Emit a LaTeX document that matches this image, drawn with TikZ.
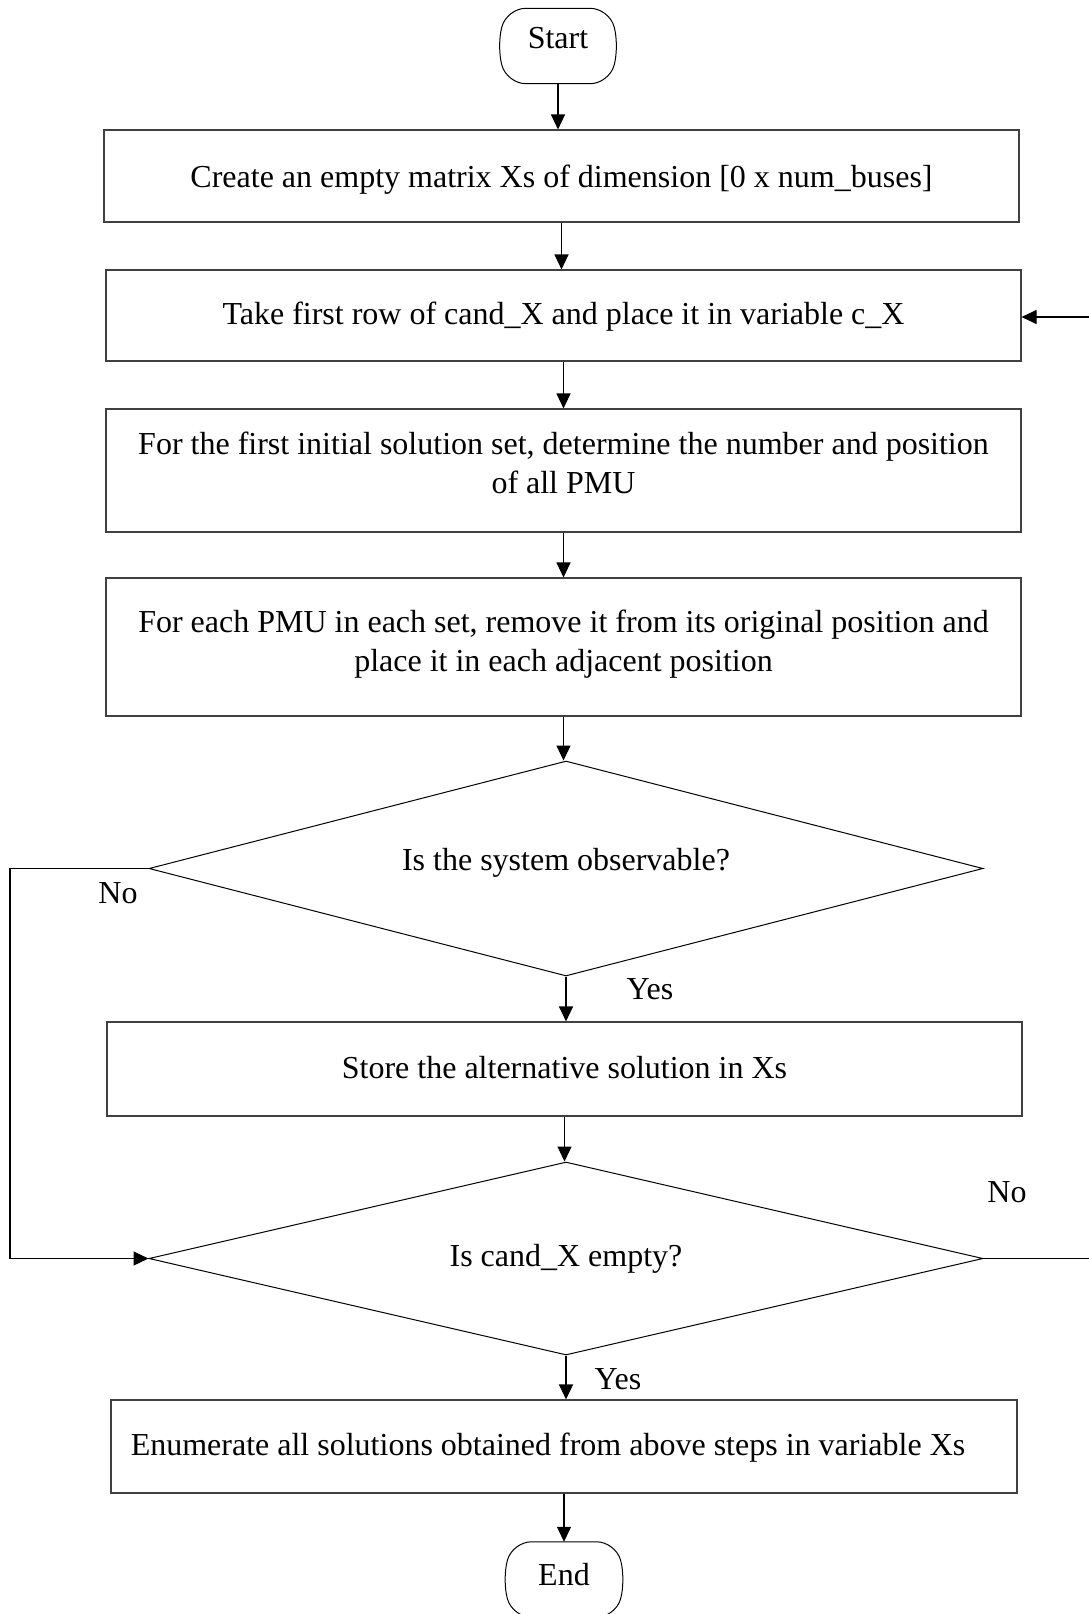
\documentclass[tikz,border=0pt]{standalone}
\usepackage{fontspec}
\setmainfont{Liberation Serif}
\usetikzlibrary{shapes.geometric,arrows.meta,calc}
% centre the text block on the node centre, then lift it by #1
\newcommand{\txt}[2][0pt]{\raisebox{\dimexpr #1-7.6pt\relax}[0pt][0pt]{\begin{tabular}{@{}c@{}}#2\end{tabular}}}
% terminal outline: flat top and bottom, gently bulging sides
\newcommand{\termoutline}[1]{%
  \draw[termline, rounded corners=19pt] ($(#1.north west)+(10,0)$) -- ($(#1.north east)+(-10,0)$)
    -- (#1.east) -- ($(#1.south east)+(-10,0)$) -- ($(#1.south west)+(10,0)$)
    -- (#1.west) -- cycle;}
\begin{document}
\begin{tikzpicture}[x=1pt,y=-1pt,
  every node/.style={font=\fontsize{32}{39}\selectfont, inner sep=0pt},
  stepbox/.style={draw=black!75, line width=1.1pt, rectangle, minimum width=915pt},
  term/.style={rectangle, minimum width=122pt, minimum height=75pt},
  termline/.style={draw=black, line width=1pt},
  decision/.style={draw=black, line width=1pt, diamond, minimum width=834pt},
  flow/.style={draw=black, line width=1.1pt, -{Triangle[length=15pt,width=14pt]}},
  wire/.style={draw=black, line width=1.1pt},
  lbl/.style={font=\fontsize{32}{38}\selectfont}
]
\useasboundingbox (0,0) rectangle (1089,1614);

\node[term] (start) at (558,46) {\txt[6.5pt]{Start}};
\node[stepbox, minimum height=92pt] (create) at (561.5,176) {\txt[-2pt]{Create an empty matrix Xs of dimension [0 x num\_buses]}};
\node[stepbox, minimum height=91pt] (take) at (563.5,315.5) {\txt{Take first row of cand\_X and place it in variable c\_X}};
\node[stepbox, minimum height=123pt] (first) at (563.5,470.5) {\txt[6pt]{For the first initial solution set, determine the number and position\\of all PMU}};
\node[stepbox, minimum height=138pt] (move) at (563.5,647) {\txt[4.5pt]{For each PMU in each set, remove it from its original position and\\place it in each adjacent position}};
\node[decision, aspect=3.88, minimum height=215pt] (obs) at (566,868.5) {\txt[7pt]{Is the system observable?}};
\node[stepbox, minimum height=94pt] (store) at (564.5,1069) {\txt{Store the alternative solution in Xs}};
\node[decision, aspect=4.32, minimum height=193pt] (empty) at (566,1258.5) {\txt[1.5pt]{Is cand\_X empty?}};
\node[stepbox, minimum width=906pt, minimum height=93pt] (enum) at (564,1446.5) {\hspace*{-32pt}\txt{Enumerate all solutions obtained from above steps in variable Xs}};
\node[term, minimum width=123pt] (end) at (564,1579.5) {\txt[3.5pt]{End}};
\termoutline{start}
\termoutline{end}

% main flow
\draw[flow] (start.south) -- (start.south |- create.north);
\draw[flow] (create.south) -- (create.south |- take.north);
\draw[flow] (take.south) -- (take.south |- first.north);
\draw[flow] (first.south) -- (first.south |- move.north);
\draw[flow] (move.south) -- (move.south |- obs.north);
\draw[flow] (obs.south) -- (obs.south |- store.north);
\draw[flow] (store.south) -- (store.south |- empty.north);
\draw[flow] (empty.south) -- (empty.south |- enum.north);
\draw[flow] (enum.south) -- (enum.south |- end.north);

% not observable: skip storing
\coordinate (leftrail) at (10,868.5);
\draw[flow] (obs.west) -- (leftrail) |- (empty.west);

% more candidates: loop back
\coordinate (rightout) at (1089,1258.5);
\coordinate (rightin) at (1089,317);
\draw[wire] (empty.east) -- (rightout);
\draw[flow] (rightin) -- (take.east |- rightin);

% branch labels
\node[lbl] (no1) at (118,893) {No};
\node[lbl] (yes1) at (650,989) {Yes};
\node[lbl] (no2) at (1007,1192) {No};
\node[lbl] (yes2) at (618,1379) {Yes};
\end{tikzpicture}
\end{document}
